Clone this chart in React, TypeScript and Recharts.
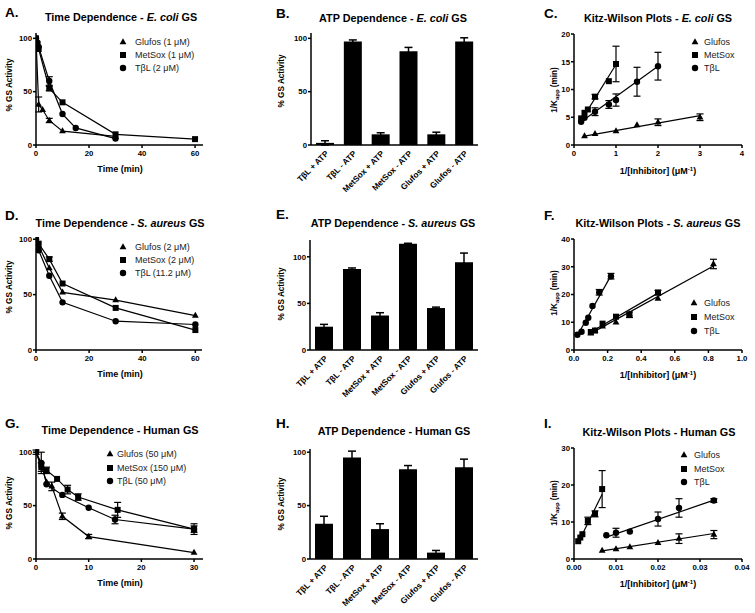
import React from 'react'
import { ScatterChart, Scatter, BarChart, Bar, XAxis, YAxis, ErrorBar } from 'recharts'

const FONT = "'Liberation Sans', Arial, Helvetica, sans-serif"

type Pt = { x: number; y: number; e?: number }

// --- A. time dependence, E. coli ---
const aGlufos: Pt[] = [
  { x: 0, y: 100 }, { x: 1, y: 38, e: 7 }, { x: 2.5, y: 33 }, { x: 5, y: 23, e: 2 }, { x: 10, y: 13 }, { x: 30, y: 8 },
]
const aMetSox: Pt[] = [
  { x: 0, y: 100 }, { x: 0.5, y: 95 }, { x: 1, y: 90 }, { x: 5, y: 53, e: 2 }, { x: 10, y: 40 }, { x: 30, y: 10 }, { x: 60, y: 5.5 },
]
const aTbl: Pt[] = [
  { x: 0, y: 100 }, { x: 0.5, y: 96 }, { x: 1, y: 92 }, { x: 5, y: 60, e: 4 }, { x: 10, y: 29 }, { x: 15, y: 16 }, { x: 30, y: 6 },
]

// --- D. time dependence, S. aureus ---
const dGlufos: Pt[] = [
  { x: 0, y: 100 }, { x: 1, y: 94 }, { x: 5, y: 74 }, { x: 10, y: 52 }, { x: 30, y: 45 }, { x: 60, y: 31 },
]
const dMetSox: Pt[] = [
  { x: 0, y: 100 }, { x: 1, y: 96 }, { x: 5, y: 82, e: 2 }, { x: 10, y: 60 }, { x: 30, y: 38 }, { x: 60, y: 18 },
]
const dTbl: Pt[] = [
  { x: 0, y: 100 }, { x: 1, y: 90 }, { x: 5, y: 67 }, { x: 10, y: 43 }, { x: 30, y: 26 }, { x: 60, y: 23 },
]

// --- G. time dependence, human ---
const gGlufos: Pt[] = [
  { x: 0, y: 100 }, { x: 1, y: 88 }, { x: 2, y: 72 }, { x: 3, y: 68, e: 4 }, { x: 5, y: 40, e: 3 }, { x: 10, y: 21, e: 2 }, { x: 30, y: 6 },
]
const gMetSox: Pt[] = [
  { x: 0, y: 100 }, { x: 1, y: 86, e: 4 }, { x: 2, y: 83, e: 3 }, { x: 4, y: 75 }, { x: 6, y: 65, e: 4 }, { x: 8, y: 58, e: 3 }, { x: 15.5, y: 46, e: 7 }, { x: 30, y: 28, e: 5 },
]
const gTbl: Pt[] = [
  { x: 0, y: 100, e: 2 }, { x: 1, y: 90, e: 10 }, { x: 2, y: 70 }, { x: 5, y: 60 }, { x: 10, y: 48 }, { x: 15, y: 37, e: 4 }, { x: 30, y: 28, e: 3 },
]

// --- bar charts ---
const barCats = ['TβL + ATP', 'TβL - ATP', 'MetSox + ATP', 'MetSox - ATP', 'Glufos + ATP', 'Glufos - ATP']
const bVals = [2, 97, 10, 88, 10, 97]
const bErrs = [2, 1.5, 1.5, 3.5, 2, 3.5]
const eVals = [25, 87, 37, 114, 45, 94]
const eErrs = [2.5, 1, 3, 0.5, 1, 10]
const hVals = [33, 95, 28, 84, 6, 86]
const hErrs = [7, 6, 5, 3.5, 2, 7.5]

// --- C. Kitz-Wilson, E. coli ---
const cGlufos: Pt[] = [
  { x: 0.25, y: 1.6 }, { x: 0.5, y: 2.0 }, { x: 1, y: 2.5 }, { x: 1.5, y: 3.6 }, { x: 2, y: 4.1, e: 0.6 }, { x: 3, y: 5.0, e: 0.6 },
]
const cMetSox: Pt[] = [
  { x: 0.17, y: 4.8 }, { x: 0.25, y: 5.8 }, { x: 0.33, y: 6.4 }, { x: 0.5, y: 8.7, e: 0.4 }, { x: 0.83, y: 11.5 }, { x: 1, y: 14.6, e: 3.2 },
]
const cTbl: Pt[] = [
  { x: 0.17, y: 4.2 }, { x: 0.25, y: 4.9 }, { x: 0.5, y: 6.0, e: 0.7 }, { x: 0.83, y: 7.3, e: 0.7 }, { x: 1, y: 8.1, e: 1.1 }, { x: 1.5, y: 11.4, e: 2.6 }, { x: 2, y: 14.2, e: 2.5 },
]
const cGlufosFit: Pt[] = [{ x: 0.25, y: 1.6 }, { x: 3, y: 5.3 }]
const cMetSoxFit: Pt[] = [{ x: 0.17, y: 4.4 }, { x: 1, y: 14.5 }]
const cTblFit: Pt[] = [{ x: 0.17, y: 4.2 }, { x: 2, y: 14.2 }]

// --- F. Kitz-Wilson, S. aureus ---
const fGlufos: Pt[] = [
  { x: 0.1, y: 6 }, { x: 0.125, y: 7 }, { x: 0.17, y: 8.5 }, { x: 0.25, y: 10 }, { x: 0.33, y: 13 }, { x: 0.5, y: 18.5 }, { x: 0.83, y: 31, e: 1.7 },
]
const fMetSox: Pt[] = [
  { x: 0.1, y: 6.5 }, { x: 0.125, y: 7 }, { x: 0.17, y: 9.5 }, { x: 0.25, y: 12 }, { x: 0.33, y: 12.7, e: 1 }, { x: 0.5, y: 20.7, e: 0.8 },
]
const fTbl: Pt[] = [
  { x: 0.02, y: 5.5 }, { x: 0.045, y: 6.6 }, { x: 0.07, y: 9.8 }, { x: 0.085, y: 11.6 }, { x: 0.11, y: 15.9 }, { x: 0.15, y: 20.8, e: 1 }, { x: 0.22, y: 26.6, e: 1 },
]
const fGlufosFit: Pt[] = [{ x: 0.1, y: 6 }, { x: 0.83, y: 30.3 }]
const fMetSoxFit: Pt[] = [{ x: 0.1, y: 6.5 }, { x: 0.5, y: 20.5 }]
const fTblFit: Pt[] = [{ x: 0.02, y: 5.2 }, { x: 0.22, y: 26.8 }]

// --- I. Kitz-Wilson, human ---
const iGlufos: Pt[] = [
  { x: 0.0067, y: 2.3 }, { x: 0.01, y: 2.7 }, { x: 0.0133, y: 3.2 }, { x: 0.02, y: 4.4 }, { x: 0.025, y: 5.5, e: 1.3 }, { x: 0.0333, y: 6.6, e: 1.1 },
]
const iMetSox: Pt[] = [
  { x: 0.001, y: 4.8 }, { x: 0.0015, y: 5.8 }, { x: 0.002, y: 6.7 }, { x: 0.0033, y: 10.3, e: 1 }, { x: 0.005, y: 12.2, e: 0.8 }, { x: 0.0067, y: 18.9, e: 5 },
]
const iTbl: Pt[] = [
  { x: 0.0077, y: 6.4 }, { x: 0.01, y: 7.1, e: 1.2 }, { x: 0.0133, y: 7.4 }, { x: 0.02, y: 10.8, e: 1.9 }, { x: 0.025, y: 13.8, e: 2.5 }, { x: 0.0333, y: 15.8, e: 0.5 },
]
const iGlufosFit: Pt[] = [{ x: 0.0067, y: 2.2 }, { x: 0.0333, y: 6.9 }]
const iMetSoxFit: Pt[] = [{ x: 0.001, y: 4.4 }, { x: 0.0067, y: 17.5 }]
const iTblFit: Pt[] = [{ x: 0.0077, y: 5.9 }, { x: 0.0333, y: 15.9 }]

type Shape = 'tri' | 'sq' | 'dot'

const Tri = (p: any) => (
  <path d={`M${p.cx},${p.cy - 3.8}L${p.cx + 3.4},${p.cy + 2.2}L${p.cx - 3.4},${p.cy + 2.2}Z`} fill="#000" />
)
const Sq = (p: any) => <rect x={p.cx - 3} y={p.cy - 3} width={6} height={6} fill="#000" />
const Dot = (p: any) => <circle cx={p.cx} cy={p.cy} r={3.2} fill="#000" />
const NoMark = () => <g />
const shapes = { tri: Tri, sq: Sq, dot: Dot }

type Box = { x0: number; x1: number; yTop: number; yBot: number }

const tickStyle = { fontSize: 7.8, fontWeight: 700, fill: '#000', fontFamily: FONT }
const axisStroke = { stroke: '#000', strokeWidth: 1.5 }

interface XYProps {
  box: Box
  xDomain: [number, number]
  xTicks: number[]
  xFmt?: (v: number) => string
  yDomain: [number, number]
  yTicks: number[]
  series: { data: Pt[]; shape: Shape; line: boolean }[]
  fits?: Pt[][]
}

function XYPanel({ box, xDomain, xTicks, xFmt, yDomain, yTicks, series, fits = [] }: XYProps) {
  const w = box.x1 - box.x0 + 48
  const h = box.yBot - box.yTop + 30
  return (
    <div style={{ position: 'absolute', left: box.x0 - 40, top: box.yTop - 8 }}>
      <ScatterChart width={w} height={h} margin={{ top: 8, right: 8, left: 0, bottom: 0 }}>
        <XAxis
          type="number"
          dataKey="x"
          domain={xDomain}
          ticks={xTicks}
          tickFormatter={xFmt}
          allowDataOverflow
          height={22}
          tickSize={3}
          tickMargin={2}
          tick={tickStyle}
          axisLine={axisStroke}
          tickLine={axisStroke}
        />
        <YAxis
          type="number"
          dataKey="y"
          domain={yDomain}
          ticks={yTicks}
          allowDataOverflow
          width={40}
          tickSize={3}
          tickMargin={1}
          tick={tickStyle}
          axisLine={axisStroke}
          tickLine={axisStroke}
        />
        {fits.map((f, i) => (
          <Scatter key={`fit-${i}`} data={f} shape={NoMark} line={{ stroke: '#000', strokeWidth: 1.2 }} isAnimationActive={false} />
        ))}
        {series.map((s, i) => (
          <Scatter
            key={`s-${i}`}
            data={s.data}
            shape={shapes[s.shape]}
            line={s.line ? { stroke: '#000', strokeWidth: 1.2 } : false}
            isAnimationActive={false}
          >
            <ErrorBar dataKey="e" direction="y" width={3.5} stroke="#000" strokeWidth={1.2} />
          </Scatter>
        ))}
      </ScatterChart>
    </div>
  )
}

function BarPanel({ box, yDomain, vals, errs }: { box: Box; yDomain: [number, number]; vals: number[]; errs: number[] }) {
  const data = barCats.map((name, i) => ({ name, v: vals[i], e: errs[i] }))
  const w = box.x1 - box.x0 + 48
  const h = box.yBot - box.yTop + 70
  return (
    <div style={{ position: 'absolute', left: box.x0 - 40, top: box.yTop - 8 }}>
      <BarChart width={w} height={h} data={data} margin={{ top: 8, right: 8, left: 0, bottom: 0 }}>
        <XAxis
          dataKey="name"
          interval={0}
          height={62}
          tickLine={false}
          tickSize={3}
          angle={-45}
          textAnchor="end"
          tick={{ ...tickStyle, fontSize: 8.3 }}
          axisLine={axisStroke}
        />
        <YAxis
          type="number"
          domain={yDomain}
          ticks={[0, 50, 100]}
          allowDataOverflow
          width={40}
          tickSize={3}
          tickMargin={1}
          tick={tickStyle}
          axisLine={axisStroke}
          tickLine={axisStroke}
        />
        <Bar dataKey="v" fill="#000" barSize={18} isAnimationActive={false}>
          <ErrorBar dataKey="e" direction="y" width={4} stroke="#000" strokeWidth={1.5} />
        </Bar>
      </BarChart>
    </div>
  )
}

const abs = (x: number, y: number, extra: React.CSSProperties = {}): React.CSSProperties => ({
  position: 'absolute',
  left: x,
  top: y,
  transform: 'translate(-50%, -50%)',
  whiteSpace: 'nowrap',
  fontFamily: FONT,
  color: '#000',
  lineHeight: 1,
  ...extra,
})

function Letter({ x, y, t }: { x: number; y: number; t: string }) {
  return <div style={{ ...abs(x, y), transform: 'translate(0, -50%)', fontSize: 13.5, fontWeight: 700 }}>{t}</div>
}
function Title({ x, y, children }: { x: number; y: number; children: React.ReactNode }) {
  return <div style={{ ...abs(x, y), fontSize: 10.8, fontWeight: 700 }}>{children}</div>
}
function XLabel({ x, y, children }: { x: number; y: number; children: React.ReactNode }) {
  return <div style={{ ...abs(x, y), fontSize: 9, fontWeight: 700 }}>{children}</div>
}
function YLabel({ x, y, children }: { x: number; y: number; children: React.ReactNode }) {
  return <div style={{ ...abs(x, y), transform: 'translate(-50%, -50%) rotate(-90deg)', fontSize: 8.2, fontWeight: 700 }}>{children}</div>
}

function LegendMark({ shape }: { shape: Shape }) {
  return (
    <svg width={10} height={10} style={{ display: 'block' }}>
      {shape === 'tri' && <path d="M5,1.2L8.4,7.2L1.6,7.2Z" fill="#000" />}
      {shape === 'sq' && <rect x={2} y={2} width={6} height={6} fill="#000" />}
      {shape === 'dot' && <circle cx={5} cy={5} r={3.2} fill="#000" />}
    </svg>
  )
}

function Legend({ mx, tx, ys, rows }: { mx: number; tx: number; ys: number[]; rows: { shape: Shape; label: React.ReactNode }[] }) {
  return (
    <>
      {rows.map((r, i) => (
        <React.Fragment key={i}>
          <div style={{ position: 'absolute', left: mx - 5, top: ys[i] - 5 }}>
            <LegendMark shape={r.shape} />
          </div>
          <div style={{ ...abs(tx, ys[i]), transform: 'translate(0, -50%)', fontSize: 9, color: '#222' }}>{r.label}</div>
        </React.Fragment>
      ))}
    </>
  )
}

const kLabel = (
  <span>
    1/K<sub style={{ fontSize: 6, verticalAlign: -2 }}>app</sub> (min)
  </span>
)
const inhLabel = (
  <span>
    1/[Inhibitor] (μM<sup style={{ fontSize: 6, verticalAlign: 3 }}>-1</sup>)
  </span>
)

const pct = '% GS Activity'

export default function App() {
  const timeX = [0, 20, 40, 60]
  const pctY = [0, 50, 100]
  return (
    <div style={{ position: 'absolute', left: 0, top: 0, width: 755, height: 613, background: '#fff', overflow: 'hidden' }}>
      {/* row 1 */}
      <XYPanel
        box={{ x0: 36, x1: 203, yTop: 33, yBot: 145 }}
        xDomain={[0, 63]}
        xTicks={timeX}
        yDomain={[0, 105]}
        yTicks={pctY}
        series={[
          { data: aGlufos, shape: 'tri', line: true },
          { data: aMetSox, shape: 'sq', line: true },
          { data: aTbl, shape: 'dot', line: true },
        ]}
      />
      <BarPanel box={{ x0: 311, x1: 478, yTop: 33, yBot: 145 }} yDomain={[0, 105]} vals={bVals} errs={bErrs} />
      <XYPanel
        box={{ x0: 574, x1: 742, yTop: 34, yBot: 145 }}
        xDomain={[0, 4]}
        xTicks={[0, 1, 2, 3, 4]}
        yDomain={[0, 20]}
        yTicks={[0, 5, 10, 15, 20]}
        fits={[cGlufosFit, cMetSoxFit, cTblFit]}
        series={[
          { data: cGlufos, shape: 'tri', line: false },
          { data: cMetSox, shape: 'sq', line: false },
          { data: cTbl, shape: 'dot', line: false },
        ]}
      />

      {/* row 2 */}
      <XYPanel
        box={{ x0: 36, x1: 202, yTop: 237, yBot: 350 }}
        xDomain={[0, 62.5]}
        xTicks={timeX}
        yDomain={[0, 102]}
        yTicks={pctY}
        series={[
          { data: dGlufos, shape: 'tri', line: true },
          { data: dMetSox, shape: 'sq', line: true },
          { data: dTbl, shape: 'dot', line: true },
        ]}
      />
      <BarPanel box={{ x0: 310, x1: 478, yTop: 240, yBot: 350 }} yDomain={[0, 118]} vals={eVals} errs={eErrs} />
      <XYPanel
        box={{ x0: 574, x1: 742, yTop: 239, yBot: 350 }}
        xDomain={[0, 1]}
        xTicks={[0, 0.2, 0.4, 0.6, 0.8, 1]}
        xFmt={(v) => v.toFixed(1)}
        yDomain={[0, 40]}
        yTicks={[0, 10, 20, 30, 40]}
        fits={[fGlufosFit, fMetSoxFit, fTblFit]}
        series={[
          { data: fGlufos, shape: 'tri', line: false },
          { data: fMetSox, shape: 'sq', line: false },
          { data: fTbl, shape: 'dot', line: false },
        ]}
      />

      {/* row 3 */}
      <XYPanel
        box={{ x0: 36, x1: 203, yTop: 449, yBot: 559 }}
        xDomain={[0, 31.7]}
        xTicks={[0, 10, 20, 30]}
        yDomain={[0, 103]}
        yTicks={pctY}
        series={[
          { data: gGlufos, shape: 'tri', line: true },
          { data: gMetSox, shape: 'sq', line: true },
          { data: gTbl, shape: 'dot', line: true },
        ]}
      />
      <BarPanel box={{ x0: 310, x1: 478, yTop: 449, yBot: 559 }} yDomain={[0, 103]} vals={hVals} errs={hErrs} />
      <XYPanel
        box={{ x0: 574, x1: 742, yTop: 448, yBot: 559 }}
        xDomain={[0, 0.04]}
        xTicks={[0, 0.01, 0.02, 0.03, 0.04]}
        xFmt={(v) => v.toFixed(2)}
        yDomain={[0, 30]}
        yTicks={[0, 10, 20, 30]}
        fits={[iGlufosFit, iMetSoxFit, iTblFit]}
        series={[
          { data: iGlufos, shape: 'tri', line: false },
          { data: iMetSox, shape: 'sq', line: false },
          { data: iTbl, shape: 'dot', line: false },
        ]}
      />

      {/* letters */}
      <Letter x={5} y={13} t="A." />
      <Letter x={276} y={14} t="B." />
      <Letter x={544} y={14} t="C." />
      <Letter x={5} y={216} t="D." />
      <Letter x={276} y={215} t="E." />
      <Letter x={544} y={216} t="F." />
      <Letter x={5} y={424} t="G." />
      <Letter x={276} y={424} t="H." />
      <Letter x={544} y={424} t="I." />

      {/* titles */}
      <Title x={121} y={17}>Time Dependence - <i>E. coli</i> GS</Title>
      <Title x={393} y={18}>ATP Dependence - <i>E. coli</i> GS</Title>
      <Title x={658} y={18}>Kitz-Wilson Plots - <i>E. coli</i> GS</Title>
      <Title x={120} y={223}>Time Dependence - <i>S. aureus</i> GS</Title>
      <Title x={393} y={223}>ATP Dependence - <i>S. aureus</i> GS</Title>
      <Title x={658} y={223}>Kitz-Wilson Plots - <i>S. aureus</i> GS</Title>
      <Title x={120} y={430}>Time Dependence - Human GS</Title>
      <Title x={394} y={431}>ATP Dependence - Human GS</Title>
      <Title x={659} y={432}>Kitz-Wilson Plots - Human GS</Title>

      {/* axis labels */}
      <XLabel x={120} y={169}>Time (min)</XLabel>
      <XLabel x={120} y={374}>Time (min)</XLabel>
      <XLabel x={120} y={583}>Time (min)</XLabel>
      <XLabel x={658} y={171}>{inhLabel}</XLabel>
      <XLabel x={658} y={375}>{inhLabel}</XLabel>
      <XLabel x={658} y={584}>{inhLabel}</XLabel>
      <YLabel x={10} y={85}>{pct}</YLabel>
      <YLabel x={10} y={287}>{pct}</YLabel>
      <YLabel x={10} y={503}>{pct}</YLabel>
      <YLabel x={282} y={81}>{pct}</YLabel>
      <YLabel x={282} y={294}>{pct}</YLabel>
      <YLabel x={282} y={504}>{pct}</YLabel>
      <YLabel x={555} y={90}>{kLabel}</YLabel>
      <YLabel x={555} y={293}>{kLabel}</YLabel>
      <YLabel x={555} y={503}>{kLabel}</YLabel>

      {/* legends */}
      <Legend
        mx={123}
        tx={135}
        ys={[42, 54.5, 67.5]}
        rows={[
          { shape: 'tri', label: 'Glufos (1 μM)' },
          { shape: 'sq', label: 'MetSox (1 μM)' },
          { shape: 'dot', label: 'TβL (2 μM)' },
        ]}
      />
      <Legend
        mx={123}
        tx={135}
        ys={[247, 259.5, 272.5]}
        rows={[
          { shape: 'tri', label: 'Glufos (2 μM)' },
          { shape: 'sq', label: 'MetSox (2 μM)' },
          { shape: 'dot', label: 'TβL (11.2 μM)' },
        ]}
      />
      <Legend
        mx={110}
        tx={117}
        ys={[454, 468, 481]}
        rows={[
          { shape: 'tri', label: 'Glufos (50 μM)' },
          { shape: 'sq', label: 'MetSox (150 μM)' },
          { shape: 'dot', label: 'TβL (50 μM)' },
        ]}
      />
      <Legend
        mx={695}
        tx={704}
        ys={[42, 55, 68]}
        rows={[
          { shape: 'tri', label: 'Glufos' },
          { shape: 'sq', label: 'MetSox' },
          { shape: 'dot', label: 'TβL' },
        ]}
      />
      <Legend
        mx={694}
        tx={704}
        ys={[303, 317, 331]}
        rows={[
          { shape: 'tri', label: 'Glufos' },
          { shape: 'sq', label: 'MetSox' },
          { shape: 'dot', label: 'TβL' },
        ]}
      />
      <Legend
        mx={684}
        tx={694}
        ys={[455, 468.5, 482]}
        rows={[
          { shape: 'tri', label: 'Glufos' },
          { shape: 'sq', label: 'MetSox' },
          { shape: 'dot', label: 'TβL' },
        ]}
      />
    </div>
  )
}
